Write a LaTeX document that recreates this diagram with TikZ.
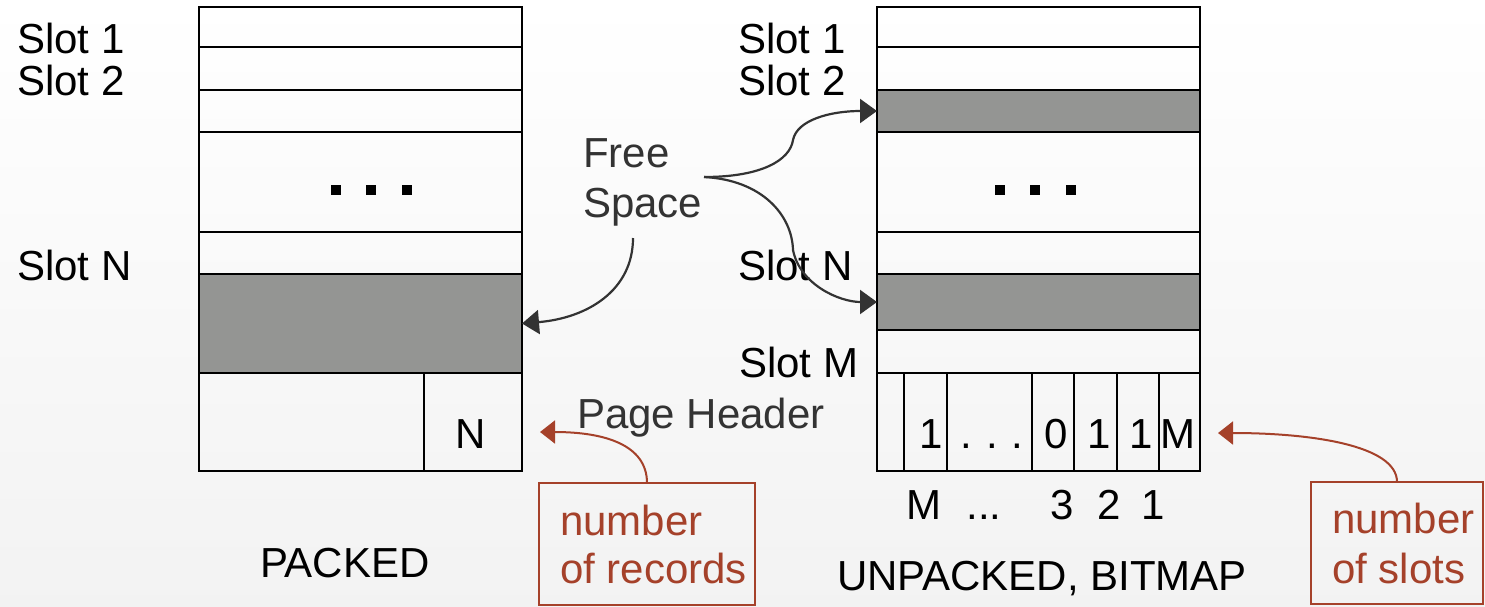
\documentclass[tikz,border=0pt]{standalone}
\usepackage{fontspec}
\setmainfont{Liberation Sans}
\usetikzlibrary{arrows.meta}
\definecolor{slotgray}{HTML}{949593}
\definecolor{ink}{HTML}{333333}
\definecolor{note}{HTML}{A5412A}
\begin{document}
\begin{tikzpicture}[x=1pt,y=-1pt,
  every node/.style={inner sep=0pt, outer sep=0pt, font=\fontsize{42}{50}\selectfont},
  cell/.style={draw, line width=2.8pt, anchor=north west, minimum width=323pt},
  freecell/.style={cell, fill=slotgray},
  bit/.style={draw, line width=1.9pt, anchor=north west, minimum height=98pt},
  lbl/.style={anchor=base west},
  num/.style={anchor=base},
  flow/.style={draw=ink, line width=2.2pt, -{Triangle[length=17pt,width=24pt]}},
  notearrow/.style={draw=note, line width=2pt, -{Triangle[length=15pt,width=23pt]}},
  notebox/.style={draw=note, line width=2pt, anchor=north west, minimum height=122pt},
  notetext/.style={anchor=base west, text=note}
]
% page background
\useasboundingbox (0,0) rectangle (1485,606);
\fill[top color=white, middle color=white, bottom color=black!5] (0,0) rectangle (1485,606);

% ---------- packed page ----------
\node[cell, minimum height=40pt]  (L1) at (199,7)   {};
\node[cell, minimum height=43pt]  (L2) at (199,47)  {};
\node[cell, minimum height=42pt]  (L3) at (199,90)  {};
\node[cell, minimum height=100pt] (L4) at (199,132) {};
\node[cell, minimum height=42pt]  (L5) at (199,232) {};
\node[freecell, minimum height=99pt] (L6) at (199,274) {};
\node[bit, minimum width=225pt] (LHa) at (199,373) {};
\node[bit, minimum width=98pt]  (LHb) at (424,373) {};
\node[num] (LNum) at (471,448) {N};
\foreach \x in {331,366,402} \fill (\x,185) rectangle ++(10,10);

\node[lbl] (ls1) at (17,53)  {Slot 1};
\node[lbl] (ls2) at (17,95)  {Slot 2};
\node[lbl] (lsN) at (17,280) {Slot N};
\node[lbl] (packed) at (260,577) {PACKED};

% ---------- unpacked page with bitmap ----------
\node[cell, minimum height=40pt]  (R1) at (877,7)   {};
\node[cell, minimum height=43pt]  (R2) at (877,47)  {};
\node[freecell, minimum height=42pt] (R3) at (877,90) {};
\node[cell, minimum height=100pt] (R4) at (877,132) {};
\node[cell, minimum height=42pt]  (R5) at (877,232) {};
\node[freecell, minimum height=56pt] (R6) at (877,274) {};
\node[cell, minimum height=43pt]  (R7) at (877,330) {};
\node[bit, minimum width=27pt] (b0) at (877,373)  {};
\node[bit, minimum width=43pt] (b1) at (904,373)  {};
\node[bit, minimum width=85pt] (b2) at (947,373)  {};
\node[bit, minimum width=42pt] (b3) at (1032,373) {};
\node[bit, minimum width=43pt] (b4) at (1074,373) {};
\node[bit, minimum width=42pt] (b5) at (1117,373) {};
\node[bit, minimum width=41pt] (b6) at (1159,373) {};
\foreach \x in {995,1030,1066} \fill (\x,185) rectangle ++(10,10);

\node[num] (v1) at (931,448)  {1};
\node[num] (v2) at (992,448)  {.\,\,.\,\,.};
\node[num] (v3) at (1056,448) {0};
\node[num] (v4) at (1099,448) {1};
\node[num] (v5) at (1141,448) {1};
\node[num] (v6) at (1178,448) {M};

\node[num] (i1) at (924,519)  {M};
\node[num] (i2) at (984,519)  {...};
\node[num] (i3) at (1062,519) {3};
\node[num] (i4) at (1109,519) {2};
\node[num] (i5) at (1153,519) {1};

\node[lbl] (rs1) at (738,53)  {Slot 1};
\node[lbl] (rs2) at (738,95)  {Slot 2};
\node[lbl] (rsN) at (738,280) {Slot N};
\node[lbl] (rsM) at (739,377) {Slot M};
\node[lbl] (unpacked) at (837,590) {UNPACKED, BITMAP};

% ---------- free space and header labels ----------
\node[lbl, text=ink] (fs1) at (583,167) {Free};
\node[lbl, text=ink] (fs2) at (583,217) {Space};
\node[lbl, text=ink] (ph)  at (577,428) {Page Header};

\coordinate (fsL) at (633,238);
\coordinate (fsR) at (704,177);
\draw[flow] (fsL) .. controls (633,290) and (588,318) .. (L6.east);
\draw[flow] (fsR) .. controls (762,177) and (790,160) .. (793,140)
                  .. controls (797,120) and (830,111) .. (R3.west);
\draw[flow] (fsR) .. controls (762,180) and (792,215) .. (793,250)
                  .. controls (800,285) and (840,302) .. (R6.west);

% ---------- annotations ----------
\node[notebox, minimum width=216pt] (recbox) at (539,483) {};
\node[notetext] (rec1) at (560,535) {number};
\node[notetext] (rec2) at (560,583) {of records};
\coordinate (recTip) at (540,432);
\draw[notearrow] (recbox.north) .. controls (647,445) and (605,432) .. (recTip);

\node[notebox, minimum width=172pt] (slotbox) at (1311,482) {};
\node[notetext] (sl1) at (1332,533) {number};
\node[notetext] (sl2) at (1332,583) {of slots};
\coordinate (slotTip) at (1218,433);
\draw[notearrow] (slotbox.north) .. controls (1397,445) and (1310,433) .. (slotTip);
\end{tikzpicture}
\end{document}
